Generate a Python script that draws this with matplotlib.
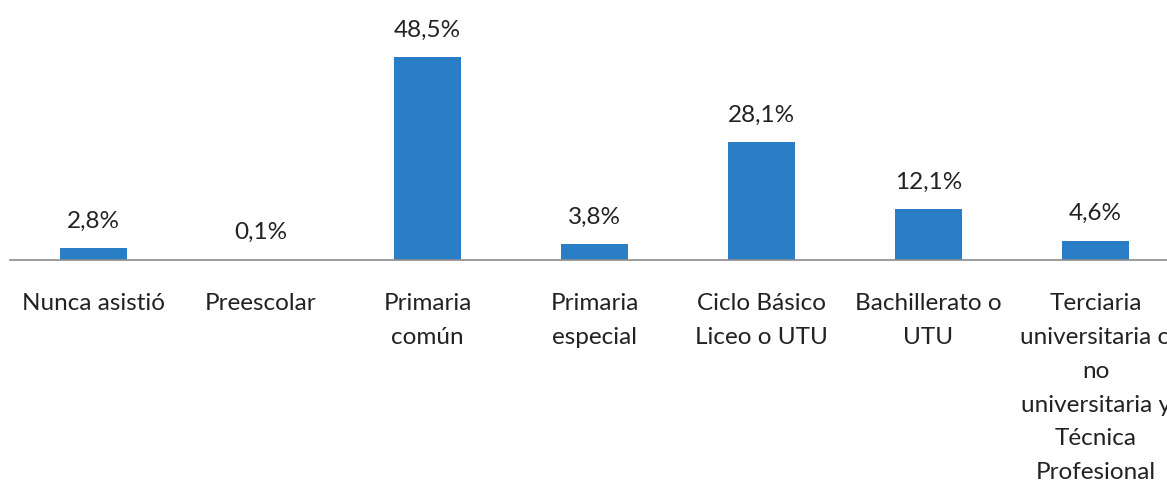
import matplotlib.pyplot as plt

categorias = ["Nunca asistió", "Preescolar", "Primaria\ncomún", "Primaria\nespecial",
              "Ciclo Básico\nLiceo o UTU", "Bachillerato o\nUTU",
              "Terciaria\nuniversitaria o\nno\nuniversitaria y\nTécnica\nProfesional"]
valores = [2.8, 0.1, 48.5, 3.8, 28.1, 12.1, 4.6]
etiquetas = ["2,8%", "0,1%", "48,5%", "3,8%", "28,1%", "12,1%", "4,6%"]

plt.rcParams['font.family'] = ['Lato', 'DejaVu Sans']

fig = plt.figure(figsize=(11.67, 4.84), dpi=100)
ax = fig.add_axes([10 / 1167, 224 / 484, 1169 / 1167, 230 / 484])

x = list(range(len(valores)))
bars = ax.bar(x, valores, width=0.4, color="#2A7EC6")

for b, t in zip(bars, etiquetas):
    ax.annotate(t, (b.get_x() + b.get_width() / 2, b.get_height()),
                xytext=(0, 12), textcoords="offset points",
                ha="center", va="bottom", fontsize=17.5, color="#222222")

ax.set_xlim(-0.5, len(valores) - 0.5)
ax.set_ylim(0, 55)
ax.set_xticks(x)
ax.set_xticklabels(categorias, fontsize=17.5, color="#222222")
for lbl in ax.get_xticklabels():
    lbl.set_linespacing(1.75)
ax.tick_params(axis="x", length=0, pad=24)
ax.set_yticks([])
for s in ["top", "right", "left"]:
    ax.spines[s].set_visible(False)
ax.spines["bottom"].set_color("#8C8C8C")
ax.spines["bottom"].set_linewidth(1.2)

fig.savefig("out.png", dpi=100)
